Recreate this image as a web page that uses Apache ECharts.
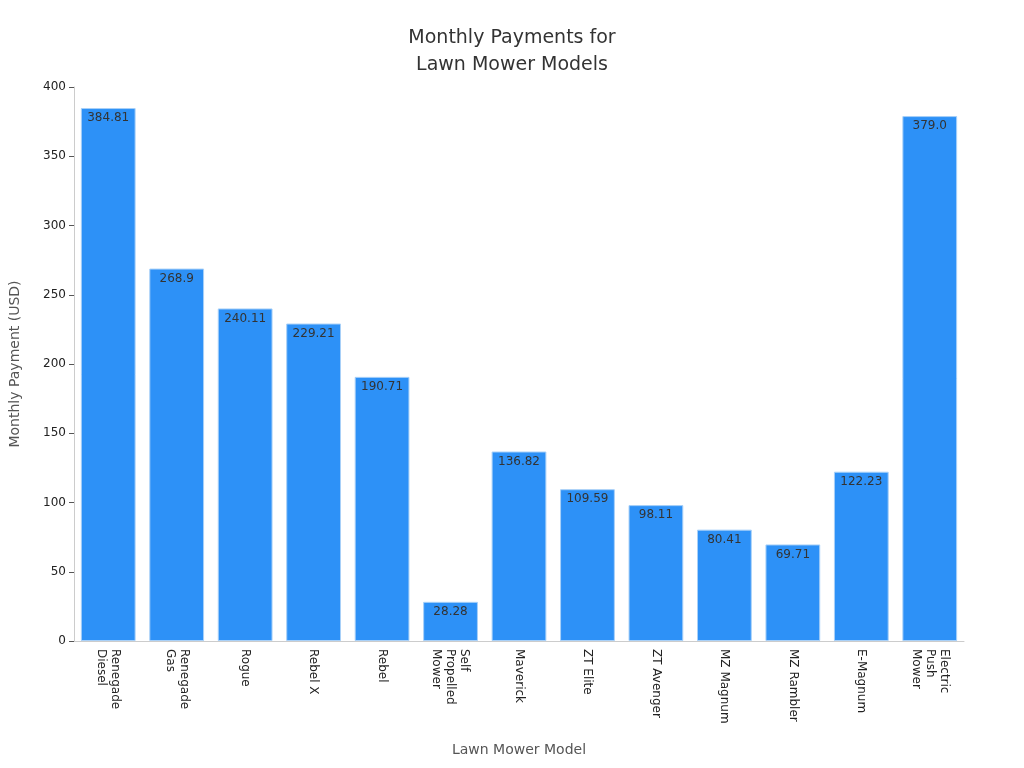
<!DOCTYPE html>
<html>
<head>
<meta charset="utf-8">
<script src="https://cdn.jsdelivr.net/npm/echarts@6/dist/echarts.min.js"></script>
<style>html,body{margin:0;padding:0;background:#fff}#chart{width:1024px;height:768px}</style>
</head>
<body>
<div id="chart"></div>
<script>
// 类目与数据
const models = ['Renegade\nDiesel', 'Renegade\nGas', 'Rogue', 'Rebel X', 'Rebel',
    'Self\nPropelled\nMower', 'Maverick', 'ZT Elite', 'ZT Avenger', 'MZ Magnum',
    'MZ Rambler', 'E-Magnum', 'Electric\nPush\nMower'];
const payments = [384.81, 268.9, 240.11, 229.21, 190.71, 28.28, 136.82, 109.59,
    98.11, 80.41, 69.71, 122.23, 379.0];
const valueLabels = ['384.81', '268.9', '240.11', '229.21', '190.71', '28.28', '136.82',
    '109.59', '98.11', '80.41', '69.71', '122.23', '379.0'];

const chart = echarts.init(document.getElementById('chart'));
const font = 'DejaVu Sans';

chart.setOption({
    textStyle: { fontFamily: font },
    title: {
        text: 'Monthly Payments for\nLawn Mower Models',
        left: 'center', top: 20,
        textStyle: { fontFamily: font, fontSize: 19, fontWeight: 'normal', color: '#333', lineHeight: 27 }
    },
    grid: { left: 69, right: 60, top: 87, bottom: 127 },
    xAxis: {
        type: 'category',
        data: models,
        name: 'Lawn Mower Model',
        nameLocation: 'middle', nameGap: 102,
        nameTextStyle: { fontFamily: font, fontSize: 14, color: '#555' },
        axisLine: { lineStyle: { color: '#ccc' } },
        axisTick: { alignWithLabel: true, lineStyle: { color: '#555' } },
        axisLabel: { rotate: -90, color: '#222', fontSize: 12, lineHeight: 14, interval: 0 }
    },
    yAxis: {
        type: 'value', min: 0, max: 400, interval: 50,
        name: 'Monthly Payment (USD)',
        nameLocation: 'middle', nameGap: 52,
        nameTextStyle: { fontFamily: font, fontSize: 14, color: '#555' },
        axisLine: { show: true, lineStyle: { color: '#ccc' } },
        axisTick: { show: true, lineStyle: { color: '#555' } },
        axisLabel: { color: '#222', fontSize: 12 },
        splitLine: { show: false }
    },
    series: [{
        type: 'bar',
        data: payments,
        barCategoryGap: '20%',
        itemStyle: { color: '#2d91f7', borderColor: '#a8d0f8', borderWidth: 1 },
        label: {
            show: true, position: 'insideTop', distance: 4,
            color: '#333', fontSize: 12,
            formatter: p => valueLabels[p.dataIndex]
        }
    }]
});
window.addEventListener('resize', () => chart.resize());
</script>
</body>
</html>
